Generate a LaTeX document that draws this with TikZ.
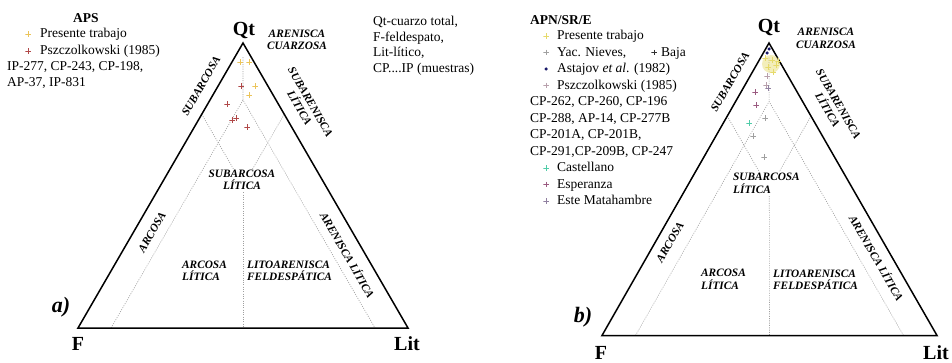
\documentclass[tikz,border=0pt]{standalone}
\usepackage{fontspec}
\setmainfont{Liberation Serif}
\usetikzlibrary{calc}
\definecolor{ptyel}{HTML}{EBC45A}
\definecolor{ptyelb}{HTML}{E6DA6A}
\definecolor{ptred}{HTML}{B04848}
\definecolor{ptgray}{HTML}{A0A0A0}
\definecolor{ptdark}{HTML}{303030}
\definecolor{ptnavy}{HTML}{1A1A6A}
\definecolor{ptpsz}{HTML}{B8A0AC}
\definecolor{ptteal}{HTML}{50CCA8}
\definecolor{ptesp}{HTML}{9A5A80}
\definecolor{ptmat}{HTML}{9080A0}
\tikzset{
  triedge/.style={line width=1.5pt, line join=miter},
  divline/.style={gray!75, line width=0.6pt, dash pattern=on 1pt off 1.3pt},
  reglbl/.style={font=\fontsize{11.3}{12.5}\selectfont\bfseries\itshape, inner sep=0pt, align=center},
  reglblL/.style={font=\fontsize{11.3}{12.5}\selectfont\bfseries\itshape, inner sep=0pt, align=left},
  leg/.style={font=\fontsize{13.5}{16}\selectfont, anchor=base west, inner sep=0pt},
  vert/.style={font=\fontsize{20}{22}\selectfont\bfseries, inner sep=0pt},
  panel/.style={font=\fontsize{22}{24}\selectfont\bfseries\itshape, inner sep=0pt},
  pm/.style={inner sep=0pt, minimum size=5.5pt,
    path picture={\draw[#1, line width=0.9pt]
      (path picture bounding box.north) -- (path picture bounding box.south)
      (path picture bounding box.west) -- (path picture bounding box.east);}},
  dotmk/.style={circle, fill=#1, inner sep=0pt, minimum size=3.5pt}
}
\begin{document}
\begin{tikzpicture}[x=1pt,y=-1pt]
\fill[white] (0,0) rectangle (952,363);
\useasboundingbox (0,0) rectangle (952,363);

% ---------------- triangle a ----------------
\coordinate (aA) at (243,43);
\coordinate (aF) at (78,328);
\coordinate (aL) at (408,328);
\coordinate (aJ) at (barycentric cs:aA=0.8,aF=0.1,aL=0.1);
\coordinate (aM) at (barycentric cs:aA=0.5,aF=0.25,aL=0.25);
\coordinate (aT) at (barycentric cs:aA=0.95,aF=0.025,aL=0.025);
\coordinate (aB1) at (barycentric cs:aF=0.9,aL=0.1);
\coordinate (aB2) at (barycentric cs:aF=0.1,aL=0.9);
\coordinate (aB3) at (barycentric cs:aF=0.5,aL=0.5);
\coordinate (aE1) at (barycentric cs:aA=0.75,aF=0.25);
\coordinate (aE2) at (barycentric cs:aA=0.75,aL=0.25);
\draw[divline] (aB1) -- (aJ) -- (aB2);
\draw[divline] (aT) -- (aJ);
\draw[divline] (aE1) -- (aM) -- (aE2);
\draw[divline] (aM) -- (aB3);
\draw[triedge] (aA) -- (aF) -- (aL) -- cycle;

\node[reglbl, fill=white, inner sep=1pt] (aSL) at (242,180) {SUBARCOSA\\LÍTICA};
\node[reglbl] (aAC) at (297,40) {ARENISCA\\CUARZOSA};
\node[reglbl, rotate=60] (aSA) at (201,86) {SUBARCOSA};
\node[reglbl, rotate=-60] (aSUL) at (305,105) {SUBARENISCA\\LÍTICA};
\node[reglbl, rotate=60] (aAR) at (152,232) {ARCOSA};
\node[reglbl, rotate=-60] (aAL) at (348,255) {ARENISCA LÍTICA};
\node[reglblL, anchor=west] (aALi) at (182,271) {ARCOSA\\LÍTICA};
\node[reglblL, anchor=west] (aLF) at (247,271) {LITOARENISCA\\FELDESPÁTICA};

\node[vert] (aQt) at (244,31) {Qt};
\node[vert] (aFl) at (78,344) {F};
\node[vert] (aLl) at (407,344) {Lit};
\node[panel] (apan) at (61,307) {a)};

% data a
\node[pm=ptyel] (ay1) at (240,62) {};
\node[pm=ptyel] (ay2) at (249,62) {};
\node[pm=ptyel] (ay3) at (255,86) {};
\node[pm=ptyel] (ay4) at (249,95) {};
\node[pm=ptred] (ar1) at (241,86) {};
\node[pm=ptred] (ar2) at (227,104) {};
\node[pm=ptred] (ar3) at (236,118) {};
\node[pm=ptred] (ar4) at (232,120) {};
\node[pm=ptred] (ar5) at (247,127) {};

% legend a
\node[font=\fontsize{13.5}{16}\selectfont\bfseries, anchor=base, inner sep=0pt] (aLt) at (86,23) {APS};
\node[pm=ptyel] (aLm1) at (28,34) {};
\node[leg] (aL1) at (40,38) {Presente trabajo};
\node[pm=ptred] (aLm2) at (28,51) {};
\node[leg] (aL2) at (40,55) {Pszczolkowski (1985)};
\node[leg] (aL3) at (7,71) {IP-277, CP-243, CP-198,};
\node[leg] (aL4) at (7,87) {AP-37, IP-831};

\node[leg] (aK1) at (373,26) {Qt-cuarzo total,};
\node[leg] (aK2) at (373,41.5) {F-feldespato,};
\node[leg] (aK3) at (373,57) {Lit-lítico,};
\node[leg] (aK4) at (373,73) {CP....IP (muestras)};

% ---------------- triangle b ----------------
\coordinate (bA) at (769,43);
\coordinate (bF) at (602,335.5);
\coordinate (bL) at (937,335.5);
\coordinate (bJ) at (barycentric cs:bA=0.8,bF=0.1,bL=0.1);
\coordinate (bM) at (barycentric cs:bA=0.5,bF=0.25,bL=0.25);
\coordinate (bT) at (barycentric cs:bA=0.95,bF=0.025,bL=0.025);
\coordinate (bB1) at (barycentric cs:bF=0.9,bL=0.1);
\coordinate (bB2) at (barycentric cs:bF=0.1,bL=0.9);
\coordinate (bB3) at (barycentric cs:bF=0.5,bL=0.5);
\coordinate (bE1) at (barycentric cs:bA=0.75,bF=0.25);
\coordinate (bE2) at (barycentric cs:bA=0.75,bL=0.25);
\draw[divline] (bB1) -- (bJ) -- (bB2);
\draw[divline] (bT) -- (bJ);
\draw[divline] (bE1) -- (bM) -- (bE2);
\draw[divline] (bM) -- (bB3);
\draw[triedge] (bA) -- (bF) -- (bL) -- cycle;

\node[reglblL, anchor=west, fill=white, inner sep=1pt] (bSL) at (732,183.5) {SUBARCOSA\\LÍTICA};
\node[reglbl] (bAC) at (826,38.5) {ARENISCA\\CUARZOSA};
\node[reglbl, rotate=60] (bSA) at (730,82) {SUBARCOSA};
\node[reglbl, rotate=-60] (bSUL) at (833,107) {SUBARENISCA\\LÍTICA};
\node[reglbl, rotate=60] (bAR) at (670,242) {ARCOSA};
\node[reglbl, rotate=-60] (bAL) at (877,258) {ARENISCA LÍTICA};
\node[reglblL, anchor=west] (bALi) at (701,279.5) {ARCOSA\\LÍTICA};
\node[reglblL, anchor=west] (bLF) at (773,280) {LITOARENISCA\\FELDESPÁTICA};

\node[vert] (bQt) at (769,28) {Qt};
\node[vert] (bFl) at (601,353) {F};
\node[vert] (bLl) at (936,353) {Lit};
\node[panel] (bpan) at (583,317) {b)};

% data b
\fill[ptyelb, opacity=0.45] (771,64) circle (9);
\node[dotmk=ptnavy] (bn1) at (769,49) {};
\node[dotmk=ptnavy] (bn2) at (767,53) {};
\node[pm=ptyelb] (by1) at (765,58) {};
\node[pm=ptyelb] (by2) at (772,60) {};
\node[pm=ptyelb] (by3) at (776,65) {};
\node[pm=ptyelb] (by4) at (768,67) {};
\node[pm=ptyelb] (by5) at (773,72) {};
\node[pm=ptyelb] (by6) at (778,61) {};
\node[pm=ptpsz] (bp1) at (767,76) {};
\node[pm=ptpsz] (bp2) at (766,85) {};
\node[pm=ptmat] (bp3) at (768,88) {};
\node[pm=ptesp] (be1) at (755,92) {};
\node[pm=ptesp] (be2) at (756,105) {};
\node[pm=ptgray] (bg1) at (765,118) {};
\node[pm=ptteal] (bt1) at (749,123) {};
\node[pm=ptgray] (bg2) at (753,136) {};
\node[pm=ptgray] (bg3) at (764,157) {};

% legend b
\node[font=\fontsize{13.5}{16}\selectfont\bfseries, anchor=base west, inner sep=0pt] (bLt) at (530,25) {APN/SR/E};
\node[pm=ptyelb] (bLm1) at (546,36) {};
\node[leg] (bL1) at (557,40) {Presente trabajo};
\node[pm=ptgray] (bLm2) at (546,52.5) {};
\node[leg] (bL2) at (557,56.5) {Yac. Nieves,};
\node[pm=ptdark] (bLm2b) at (654,52.5) {};
\node[leg] (bL2b) at (661,56.5) {Baja};
\node[dotmk=ptnavy] (bLm3) at (546,69) {};
\node[leg] (bL3) at (557,73) {Astajov \textit{et al}. (1982)};
\node[pm=ptpsz] (bLm4) at (546,85.5) {};
\node[leg] (bL4) at (557,89.5) {Pszczolkowski (1985)};
\node[leg] (bL5) at (530,106) {CP-262, CP-260, CP-196};
\node[leg] (bL6) at (530,122.5) {CP-288, AP-14, CP-277B};
\node[leg] (bL7) at (530,139) {CP-201A, CP-201B,};
\node[leg] (bL8) at (530,155.5) {CP-291,CP-209B, CP-247};
\node[pm=ptteal] (bLm9) at (546,168) {};
\node[leg] (bL9) at (557,172) {Castellano};
\node[pm=ptesp] (bLm10) at (546,184.5) {};
\node[leg] (bL10) at (557,188.5) {Esperanza};
\node[pm=ptmat] (bLm11) at (546,201) {};
\node[leg] (bL11) at (557,205) {Este Matahambre};
\end{tikzpicture}
\end{document}
